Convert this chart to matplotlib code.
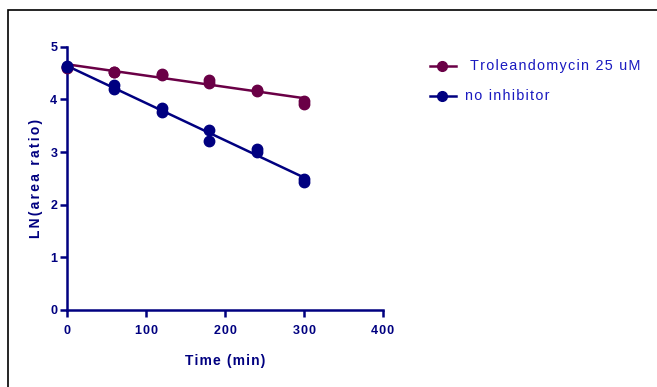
import numpy as np
import matplotlib
matplotlib.use("Agg")
import matplotlib.pyplot as plt
from matplotlib.lines import Line2D
from matplotlib.patches import Rectangle

time_trol = [0, 0, 60, 60, 120, 120, 180, 180, 240, 240, 300, 300]
ln_trol = [4.62, 4.60, 4.53, 4.52, 4.48, 4.47, 4.37, 4.32, 4.18, 4.17, 3.97, 3.92]

time_noinh = [0, 0, 60, 60, 120, 120, 180, 180, 240, 240, 300, 300]
ln_noinh = [4.63, 4.61, 4.27, 4.19, 3.84, 3.76, 3.42, 3.22, 3.05, 3.01, 2.49, 2.44]

series_names = ["Troleandomycin 25 uM", "no inhibitor"]
series_colors = ["#6a0046", "#000080"]
text_color = "#000080"
legend_text_color = "#1a1ac0"

plt.rcParams['font.family'] = ['Liberation Sans', 'DejaVu Sans']


def spaced(s, n=1):
    # the original software spreads letters out; mimic with hair spaces
    return ("\u200a" * n).join(s)


fig = plt.figure(figsize=(6.57, 3.87), dpi=100)
ax = fig.add_axes([0.102, 0.199, 0.481, 0.680])

# outer frame (only top and left edges visible in the reference)
fig.patches.append(Rectangle((8 / 657, -0.1), 1.2, 1 - 10 / 387 + 0.1,
                             transform=fig.transFigure, fill=False,
                             edgecolor="black", linewidth=1.2))

for xs, ys, col in [(time_trol, ln_trol, series_colors[0]),
                    (time_noinh, ln_noinh, series_colors[1])]:
    xs = np.array(xs)
    ys = np.array(ys)
    slope, icpt = np.polyfit(xs, ys, 1)
    xl = np.array([xs.min(), xs.max()])
    ax.plot(xl, slope * xl + icpt, color=col, lw=1.8, zorder=2)
    ax.plot(xs, ys, 'o', color=col, ms=7.5, mec=col, zorder=3, clip_on=False)

ax.set_xlim(0, 400)
ax.set_ylim(0, 5)
xticks = [0, 100, 200, 300, 400]
yticks = [0, 1, 2, 3, 4, 5]
ax.set_xticks(xticks)
ax.set_yticks(yticks)
ax.set_xticklabels([spaced(str(t)) for t in xticks])
ax.set_yticklabels([str(t) for t in yticks])

for s in ["top", "right"]:
    ax.spines[s].set_visible(False)
for s in ["left", "bottom"]:
    ax.spines[s].set_color(text_color)
    ax.spines[s].set_linewidth(1.8)

ax.tick_params(colors=text_color, width=1.8, length=5, direction="out",
               labelsize=9)
for lab in ax.get_xticklabels() + ax.get_yticklabels():
    lab.set_fontweight("bold")
ax.tick_params(axis="x", pad=6)
ax.tick_params(axis="y", pad=2)

ax.set_xlabel(spaced("Time (min)"), fontsize=10, fontweight="bold",
              color=text_color, labelpad=12)
ax.set_ylabel(spaced("LN(area ratio)", 2), fontsize=10, fontweight="bold",
              color=text_color, labelpad=5)

# legend drawn by hand to match placement
leg_y = [66, 96]
leg_x = [470, 465]
for name, col, yp, xp in zip(series_names, series_colors, leg_y, leg_x):
    yf = 1 - yp / 387
    fig.add_artist(Line2D([430 / 657, 456 / 657], [yf, yf], color=col, lw=1.8,
                          transform=fig.transFigure))
    fig.add_artist(Line2D([442 / 657], [yf], marker='o', color=col, ms=7,
                          transform=fig.transFigure))
    fig.text(xp / 657, yf, spaced(name), color=legend_text_color,
             fontsize=10.4, va="center", ha="left")

fig.savefig("out.png", dpi=100)
